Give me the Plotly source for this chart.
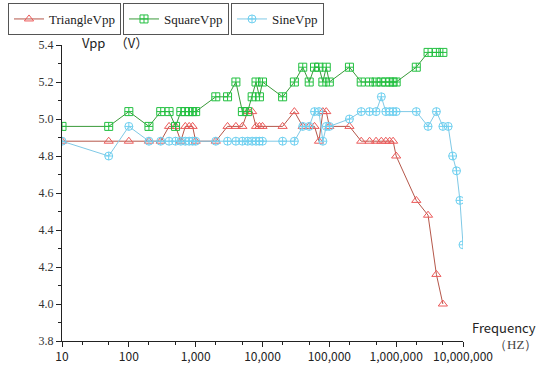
import plotly.graph_objects as go

freq = [10, 50, 100, 200, 300, 400, 500, 600, 700, 800, 900, 1000,
        2000, 3000, 4000, 5000, 6000, 7000, 8000, 9000, 10000,
        20000, 30000, 40000, 50000, 60000, 70000, 80000, 90000, 100000,
        200000, 300000, 400000, 500000, 600000, 700000, 800000, 900000, 1000000,
        2000000, 3000000, 4000000, 5000000, 6000000, 7000000, 8000000, 9000000, 10000000]

triangle_vpp = [4.88, 4.88, 4.88, 4.88, 4.88, 4.96, 4.96, 4.88, 4.96, 4.96, 4.96, 4.88,
                4.88, 4.96, 4.96, 4.96, 5.04, 5.04, 4.96, 4.96, 4.96,
                4.96, 5.04, 4.96, 4.96, 4.96, 4.88, 5.04, 5.04, 4.96,
                4.96, 4.88, 4.88, 4.88, 4.88, 4.88, 4.88, 4.88, 4.80,
                4.56, 4.48, 4.16, 4.00]

square_vpp = [4.96, 4.96, 5.04, 4.96, 5.04, 5.04, 4.96, 5.04, 5.04, 5.04, 5.04, 5.04,
              5.12, 5.12, 5.20, 5.04, 5.04, 5.12, 5.20, 5.12, 5.20,
              5.12, 5.20, 5.28, 5.20, 5.28, 5.28, 5.20, 5.28, 5.20,
              5.28, 5.20, 5.20, 5.20, 5.20, 5.20, 5.20, 5.20, 5.20,
              5.28, 5.36, 5.36, 5.36]

sine_vpp = [4.88, 4.80, 4.96, 4.88, 4.88, 4.88, 4.88, 4.88, 4.88, 4.88, 4.88, 4.88,
            4.88, 4.88, 4.88, 4.88, 4.88, 4.88, 4.88, 4.88, 4.88,
            4.88, 4.88, 4.96, 4.96, 5.04, 5.04, 4.88, 4.96, 4.96,
            5.00, 5.04, 5.04, 5.04, 5.12, 5.04, 5.04, 5.04, 5.04,
            5.04, 4.96, 5.04, 4.96, 4.96, 4.80, 4.72, 4.56, 4.32]

x_tickvals = [10, 100, 1000, 10000, 100000, 1000000, 10000000]
x_ticktext = ["10", "100", "1,000", "10,000", "100,000", "1,000,000", "10,000,000"]

fig = go.Figure()

series = [
    ("TriangleVpp", triangle_vpp, "#b5574a", "#ec5a5a", "triangle-up-open", "legend"),
    ("SquareVpp", square_vpp, "#3a9a3a", "#22c040", "square-cross-open", "legend2"),
    ("SineVpp", sine_vpp, "#7fc9e6", "#6fd0f0", "circle-cross-open", "legend3"),
]
for name, vals, lc, mc, sym, lg in series:
    fig.add_trace(go.Scatter(
        x=freq[:len(vals)], y=vals, name=name, mode="lines+markers",
        line=dict(color=lc, width=1),
        marker=dict(symbol=sym, size=8, color=mc, line=dict(width=1, color=mc)),
        legend=lg,
    ))

legend_common = dict(
    orientation="h", yanchor="top", xanchor="left",
    xref="container", yref="container",
    bgcolor="white", bordercolor="#555555", borderwidth=1,
    font=dict(family="Liberation Serif", size=13, color="#222222"),
    itemwidth=30, tracegroupgap=0,
)
fig.update_layout(
    width=550, height=376,
    margin=dict(l=62, r=87, t=45, b=35, autoexpand=False),
    paper_bgcolor="white", plot_bgcolor="white",
    showlegend=True,
    legend=dict(x=8 / 550, y=1 - 3 / 376, **legend_common),
    legend2=dict(x=123 / 550, y=1 - 3 / 376, **legend_common),
    legend3=dict(x=231 / 550, y=1 - 3 / 376, **legend_common),
    xaxis=dict(
        type="log", range=[1, 7],
        tickvals=x_tickvals, ticktext=x_ticktext,
        showgrid=False, zeroline=False,
        showline=True, linecolor="#222222", linewidth=1,
        ticks="outside", ticklen=5, tickcolor="#222222",
        minor=dict(ticks="outside", ticklen=3, tickcolor="#222222", showgrid=False),
        tickfont=dict(family="Noto Sans CJK SC", size=12, color="#222222"),
    ),
    yaxis=dict(
        range=[3.8, 5.4], dtick=0.2, tickformat=".1f",
        showgrid=False, zeroline=False,
        showline=True, linecolor="#222222", linewidth=1,
        ticks="outside", ticklen=5, tickcolor="#222222",
        minor=dict(ticks="outside", ticklen=3, dtick=0.1, tickcolor="#222222", showgrid=False),
        tickfont=dict(family="Liberation Serif", size=12, color="#333333"),
    ),
)

fig.add_annotation(xref="paper", yref="paper", x=0.045, y=1.007, xanchor="left", yanchor="middle",
                   text="Vpp \u3000\uff08V\uff09", showarrow=False,
                   font=dict(family="Noto Sans CJK SC", size=13, color="#222222"))
fig.add_annotation(xref="paper", yref="paper", x=1.017, y=0.044, xanchor="left", yanchor="middle",
                   text="Frequency", showarrow=False,
                   font=dict(family="Noto Sans CJK SC", size=13, color="#222222"))
fig.add_annotation(xref="paper", yref="paper", x=1.19, y=-0.0135, xanchor="right", yanchor="middle",
                   text="\uff08HZ\uff09", showarrow=False,
                   font=dict(family="Liberation Serif", size=13, color="#444444"))

fig.write_html("out.html", config={"displayModeBar": False},
               post_script="document.body.style.margin='0';")
